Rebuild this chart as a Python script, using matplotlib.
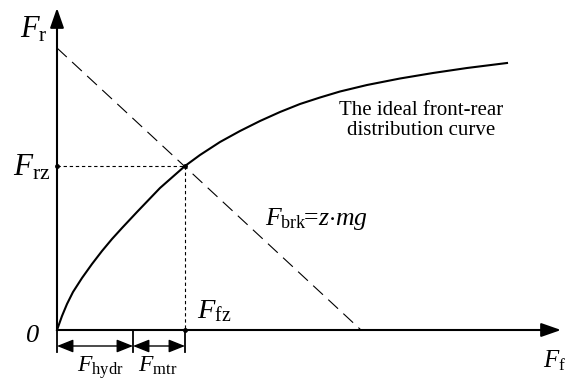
import matplotlib
matplotlib.use("Agg")
import matplotlib.pyplot as plt

plt.rcParams['mathtext.fontset'] = 'custom'
plt.rcParams['mathtext.rm'] = 'Liberation Serif'
plt.rcParams['mathtext.it'] = 'Liberation Serif:italic'
plt.rcParams['font.family'] = 'Liberation Serif'

# ideal front-rear braking force distribution (I curve)
curve_ff = [0, 5, 10, 16, 25, 35, 45, 55, 65, 80, 103, 128, 143, 163, 183, 203,
            223, 243, 263, 283, 310, 343, 376, 410, 450]
curve_fr = [0, 14, 26, 38, 52, 66, 79, 91, 102, 118, 142, 164, 175, 188, 199, 209,
            218, 226, 232.5, 238.5, 245, 251.5, 257, 262, 267]

# total braking force line F_brk = z*m*g
brk_ff = [0, 304]
brk_fr = [282, 0]

# operating point and the front force split
f_hydr = 76
f_fz = 128
f_rz = 164

fig = plt.figure(figsize=(5.82, 3.81), dpi=100)
ax = fig.add_axes([0, 0, 1, 1])
ax.set_xlim(-57, 525)
ax.set_ylim(-51, 330)
ax.axis('off')

# axes with arrow heads
arrow_kw = dict(arrowstyle='-|>,head_length=1.2,head_width=0.42', color='k', lw=1.5,
                shrinkA=0, shrinkB=0, mutation_scale=10)
ax.annotate('', xy=(504, 0), xytext=(0, 0), arrowprops=arrow_kw)
ax.annotate('', xy=(0, 322), xytext=(0, 0), arrowprops=arrow_kw)

ax.plot(curve_ff, curve_fr, color='k', lw=1.5, solid_joinstyle='round')
ax.plot(brk_ff, brk_fr, color='k', lw=0.8, linestyle=(0, (12, 6.5)))

# projections of the intersection onto both axes
ax.plot([0, f_fz], [f_rz, f_rz], color='k', lw=0.8, linestyle=(0, (3, 2.5)))
ax.plot([f_fz, f_fz], [f_rz, 0], color='k', lw=0.8, linestyle=(0, (3, 2.5)))
ax.plot([0, f_fz, f_fz], [f_rz, f_rz, 0], 'o', color='k', ms=3.5, mec='none')

# dimension ticks and double arrows under the axis
for xt in [0, f_hydr, f_fz]:
    ax.plot([xt, xt], [0, -22], color='k', lw=1.3)
dim_kw = dict(arrowstyle='<|-|>,head_length=1.0,head_width=0.4', color='k', lw=1.0,
              shrinkA=0, shrinkB=0, mutation_scale=10)
ax.annotate('', xy=(f_hydr, -16), xytext=(0, -16), arrowprops=dim_kw)
ax.annotate('', xy=(f_fz, -16), xytext=(f_hydr, -16), arrowprops=dim_kw)

ax.text(-37, 293, r'$F_{\mathrm{r}}$', fontsize=22, ha='left', va='baseline')
ax.text(-44, 154, r'$F_{\mathrm{rz}}$', fontsize=22.5, ha='left', va='baseline')
ax.text(-24, -6, '0', fontsize=19, ha='center', va='center', style='italic')
ax.text(140, 12, r'$F_{\mathrm{fz}}$', fontsize=20.5, ha='left', va='baseline')
ax.text(43.5, -42, r'$F_{\mathrm{hydr}}$', fontsize=17, ha='center', va='baseline')
ax.text(100.5, -42, r'$F_{\mathrm{mtr}}$', fontsize=17, ha='center', va='baseline')
ax.text(486, -37, r'$F_{\mathrm{f}}$', fontsize=18, ha='left', va='baseline')
ax.text(208, 105, r'$F_{\mathrm{brk}}\!\!=\!z{\cdot}mg$', fontsize=18.5,
        ha='left', va='baseline')

ax.text(364, 215, 'The ideal front-rear', fontsize=15, ha='center', va='baseline')
ax.text(364, 195, 'distribution curve', fontsize=15, ha='center', va='baseline')

fig.savefig('out.png', dpi=100)
